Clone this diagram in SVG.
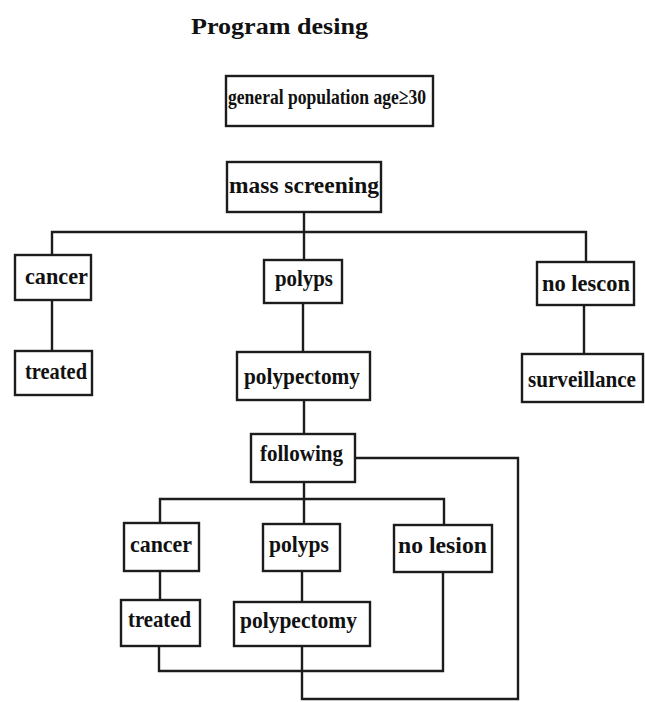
<svg xmlns="http://www.w3.org/2000/svg" width="645" height="702" viewBox="0 0 645 702">
<style>
.box{fill:#fff;stroke:#1c1c1c;stroke-width:2.4}
.t{font-family:"Liberation Serif","Times New Roman",serif;font-weight:bold;font-size:23px;fill:#111}
.title{font-family:"Liberation Serif","Times New Roman",serif;font-weight:bold;font-size:24px;fill:#111}
.c{fill:none;stroke:#1c1c1c;stroke-width:2.4;stroke-linejoin:miter}
</style>
<rect width="645" height="702" fill="#fff"/>
<text class="title" x="191" y="34" textLength="177" lengthAdjust="spacingAndGlyphs">Program desing</text>
<g id="connectors">
<path class="c" d="M304,212 V232"/>
<path class="c" d="M52,255 V232 H586 V262"/>
<path class="c" d="M304,232 V260"/>
<path class="c" d="M52,300 V351"/>
<path class="c" d="M303,303 V352"/>
<path class="c" d="M584,305 V354"/>
<path class="c" d="M304,400 V434"/>
<path class="c" d="M304,482 V524"/>
<path class="c" d="M160,523 V499 H444 V525"/>
<path class="c" d="M160,571 V600"/>
<path class="c" d="M302,571 V602"/>
<path class="c" d="M159,646 V671 H443 V572"/>
<path class="c" d="M302,646 V699 H518 V458 H355"/>
</g>
<g id="n_general">
<rect class="box" x="226" y="76" width="207" height="50"/>
<text class="t" x="228" y="104" textLength="198" lengthAdjust="spacingAndGlyphs" style="font-size:22px">general population age≥30</text>
</g>
<g id="n_mass">
<rect class="box" x="227" y="162" width="154" height="50"/>
<text class="t" x="229" y="193" textLength="150" lengthAdjust="spacingAndGlyphs">mass screening</text>
</g>
<g id="n_cancer1">
<rect class="box" x="15" y="255" width="76" height="45"/>
<text class="t" x="25" y="284" textLength="63" lengthAdjust="spacingAndGlyphs">cancer</text>
</g>
<g id="n_polyps1">
<rect class="box" x="264" y="260" width="78" height="43"/>
<text class="t" x="275" y="286" textLength="58" lengthAdjust="spacingAndGlyphs">polyps</text>
</g>
<g id="n_nolescon">
<rect class="box" x="537" y="262" width="97" height="43"/>
<text class="t" x="542" y="291" textLength="88" lengthAdjust="spacingAndGlyphs">no lescon</text>
</g>
<g id="n_treated1">
<rect class="box" x="15" y="351" width="77" height="44"/>
<text class="t" x="25" y="379" textLength="62" lengthAdjust="spacingAndGlyphs">treated</text>
</g>
<g id="n_polypectomy1">
<rect class="box" x="237" y="352" width="133" height="48"/>
<text class="t" x="244" y="384" textLength="116" lengthAdjust="spacingAndGlyphs">polypectomy</text>
</g>
<g id="n_surveillance">
<rect class="box" x="522" y="354" width="121" height="48"/>
<text class="t" x="528" y="387" textLength="108" lengthAdjust="spacingAndGlyphs">surveillance</text>
</g>
<g id="n_following">
<rect class="box" x="251" y="434" width="104" height="48"/>
<text class="t" x="260" y="461" textLength="83" lengthAdjust="spacingAndGlyphs">following</text>
</g>
<g id="n_cancer2">
<rect class="box" x="124" y="523" width="75" height="48"/>
<text class="t" x="130" y="552" textLength="62" lengthAdjust="spacingAndGlyphs">cancer</text>
</g>
<g id="n_polyps2">
<rect class="box" x="263" y="524" width="77" height="47"/>
<text class="t" x="269" y="552" textLength="60" lengthAdjust="spacingAndGlyphs">polyps</text>
</g>
<g id="n_nolesion">
<rect class="box" x="394" y="525" width="98" height="47"/>
<text class="t" x="398" y="553" textLength="89" lengthAdjust="spacingAndGlyphs">no lesion</text>
</g>
<g id="n_treated2">
<rect class="box" x="121" y="600" width="79" height="46"/>
<text class="t" x="128" y="627" textLength="63" lengthAdjust="spacingAndGlyphs">treated</text>
</g>
<g id="n_polypectomy2">
<rect class="box" x="234" y="602" width="136" height="44"/>
<text class="t" x="240" y="628" textLength="117" lengthAdjust="spacingAndGlyphs">polypectomy</text>
</g>
</svg>
